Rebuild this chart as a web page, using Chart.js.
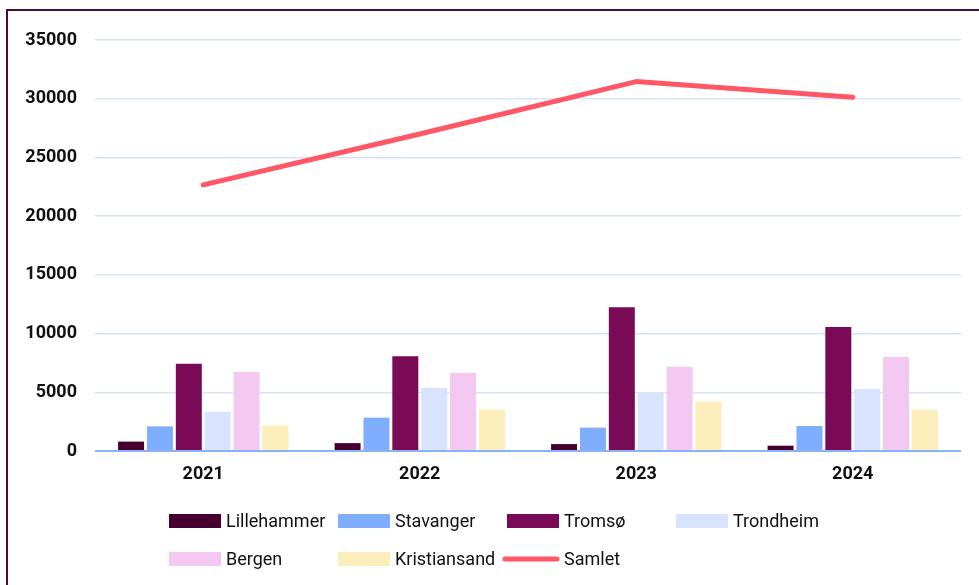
<!DOCTYPE html>
<html lang="no">
<head>
    <meta charset="UTF-8">
    <title>Samlet per by 2021-2024</title>
    <script src="https://cdn.jsdelivr.net/npm/chart.js"></script>
    <style>
        html, body { margin: 0; padding: 0; background: #ffffff; }
        .wrap { position: relative; width: 979px; height: 585px; overflow: hidden; }
        /* ramme: bare venstre og topp vises */
        .frame {
            position: absolute; left: 6px; top: 9px; width: 1200px; height: 800px;
            border-left: 2px solid #4b0c3b; border-top: 2px solid #4b0c3b;
        }
        canvas { position: absolute; left: 0; top: 0; }
    </style>
</head>
<body>
<div class="wrap">
    <div class="frame"></div>
    <canvas id="chart" width="979" height="585"></canvas>
</div>
<script>
    // Data lest av bildet
    const years = ['2021', '2022', '2023', '2024'];
    const lillehammer = [800, 670, 590, 450];
    const stavanger = [2100, 2840, 1990, 2130];
    const tromso = [7440, 8060, 12240, 10570];
    const trondheim = [3350, 5370, 5000, 5280];
    const bergen = [6730, 6670, 7180, 8030];
    const kristiansand = [2160, 3520, 4200, 3520];
    const samlet = [22660, 27000, 31460, 30120];

    const yMax = 35000;
    const yStep = 5000;

    Chart.defaults.font.family = 'Roboto';

    function bar(label, data, color) {
        return {
            type: 'bar', label: label, data: data,
            backgroundColor: color,
            borderWidth: 0,
            order: 1
        };
    }

    // Egen legende i rutenett under diagrammet
    const gridLegend = {
        id: 'gridLegend',
        afterDraw(chart) {
            const ctx = chart.ctx;
            const colX = 169, colW = 169, rowY = [521, 559], perRow = 4;
            const boxW = 52, boxH = 14;
            ctx.save();
            ctx.font = '18px Roboto';
            ctx.textBaseline = 'middle';
            chart.data.datasets.forEach((ds, i) => {
                const x = colX + (i % perRow) * colW;
                const y = rowY[Math.floor(i / perRow)];
                if (ds.type === 'line') {
                    ctx.strokeStyle = ds.borderColor;
                    ctx.lineWidth = 5;
                    ctx.lineCap = 'round';
                    ctx.beginPath();
                    ctx.moveTo(x - 2, y);
                    ctx.lineTo(x + boxW - 2, y);
                    ctx.stroke();
                } else {
                    ctx.fillStyle = ds.backgroundColor;
                    ctx.fillRect(x, y - boxH / 2, boxW, boxH);
                }
                ctx.fillStyle = '#111111';
                ctx.fillText(ds.label, x + boxW + 5, y + 1);
            });
            ctx.restore();
        }
    };

    new Chart(document.getElementById('chart'), {
        data: {
            labels: years,
            datasets: [
                bar('Lillehammer', lillehammer, '#46002f'),
                bar('Stavanger', stavanger, '#80aeff'),
                bar('Tromsø', tromso, '#780a56'),
                bar('Trondheim', trondheim, '#d8e3fd'),
                bar('Bergen', bergen, '#f3c9f2'),
                bar('Kristiansand', kristiansand, '#fbeebb'),
                {
                    type: 'line', label: 'Samlet', data: samlet,
                    borderColor: '#ff5766', backgroundColor: '#ff5766',
                    borderWidth: 5, pointRadius: 0, tension: 0,
                    borderCapStyle: 'round', borderJoinStyle: 'round',
                    order: 0
                }
            ]
        },
        options: {
            responsive: false,
            animation: false,
            layout: { padding: { left: 0, right: 18, top: 40, bottom: 84 } },
            plugins: {
                legend: { display: false },
                tooltip: { enabled: false }
            },
            scales: {
                x: {
                    grid: { display: false, drawTicks: false },
                    border: { display: false },
                    ticks: { color: '#111111', font: { size: 18, weight: 'bold' }, padding: 13 },
                    afterFit(scale) { scale.height = 50; }
                },
                y: {
                    min: 0, max: yMax,
                    border: { display: false },
                    grid: {
                        drawTicks: false,
                        lineWidth: ctx => ctx.tick.value === 0 ? 2 : 1.5,
                        color: ctx => ctx.tick.value === 0 ? '#8ab2f4' : '#d7e3fb'
                    },
                    ticks: {
                        stepSize: yStep, color: '#111111', padding: 18,
                        font: { size: 18, weight: 'bold' },
                        callback: v => String(v)
                    },
                    afterFit(scale) { scale.width = 95; }
                }
            }
        },
        plugins: [gridLegend]
    });
</script>
</body>
</html>
